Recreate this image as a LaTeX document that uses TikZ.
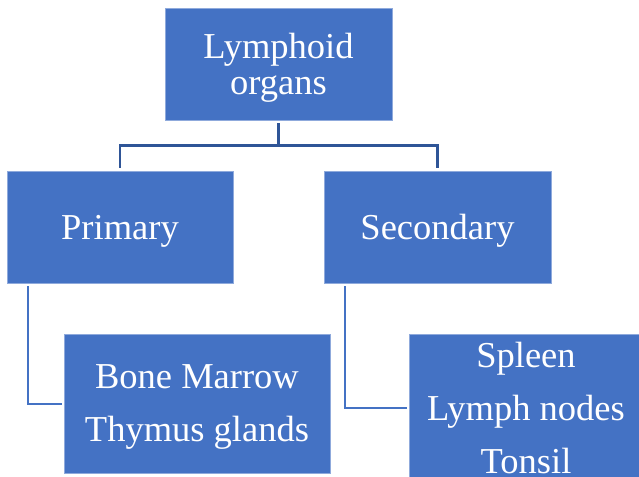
\documentclass[tikz,border=0pt]{standalone}
\usepackage{fontspec}
\setmainfont{Liberation Serif}
\definecolor{boxblue}{HTML}{4472C4}
\definecolor{edgeblue}{HTML}{8FAADC}
\definecolor{darkline}{HTML}{2F5597}
\tikzset{
  orgbox/.style={rectangle, fill=boxblue, draw=edgeblue, line width=0.8pt, inner sep=0pt,
    text=white, align=center, text depth=0pt},
  bigtext/.style={font=\fontsize{36.5}{53}\selectfont},
  toptext/.style={font=\fontsize{36.5}{36}\selectfont},
  treeline/.style={draw=darkline, line width=2.5pt},
  sideline/.style={draw=boxblue, line width=2pt},
}
\begin{document}
\begin{tikzpicture}[x=1pt,y=-1pt]
\useasboundingbox (0,0) rectangle (639,476);
\node[orgbox, toptext, minimum width=227pt, minimum height=112pt] (top) at (278.5,64) {Lymphoid\\organs};
\node[orgbox, bigtext, minimum width=226pt, minimum height=112pt] (prim) at (120,227) {Primary};
\node[orgbox, bigtext, minimum width=227pt, minimum height=112pt] (sec) at (437.5,227) {Secondary};
\node[orgbox, bigtext, minimum width=266pt, minimum height=139pt] (bm) at (197,403.5) {Bone Marrow\\Thymus glands};
\node[orgbox, bigtext, minimum width=234pt, minimum height=148pt] (sp) at (526,408) {Spleen\\Lymph nodes\\Tonsil};
\draw[treeline, shorten <=3pt, shorten >=3pt] (top.south) -- ++(0,25) -| (prim.north);
\draw[treeline, shorten >=3pt] ([yshift=-25pt]top.south) -| (sec.north);
\draw[sideline, shorten <=3pt, shorten >=2pt] ([xshift=21pt]prim.south west) |- (bm.west);
\draw[sideline, shorten <=3pt, shorten >=2pt] ([xshift=21pt]sec.south west) |- (sp.west);
\end{tikzpicture}
\end{document}
